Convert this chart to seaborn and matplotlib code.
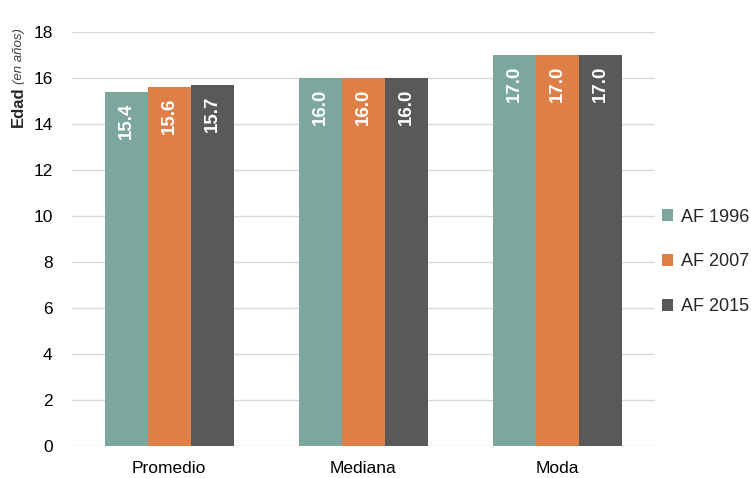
import matplotlib
matplotlib.use("Agg")
import matplotlib.pyplot as plt
import seaborn as sns
import pandas as pd

categorias = ["Promedio", "Mediana", "Moda"]
series = ["AF 1996", "AF 2007", "AF 2015"]
af_1996 = [15.4, 16.0, 17.0]
af_2007 = [15.6, 16.0, 17.0]
af_2015 = [15.7, 16.0, 17.0]
colores = ["#7BA79D", "#DE7F47", "#595959"]

df = pd.DataFrame({
    "Estadístico": categorias * 3,
    "Serie": [s for s in series for _ in categorias],
    "Edad": af_1996 + af_2007 + af_2015,
})

sns.set_theme(style="white")
plt.rcParams["font.family"] = ["Liberation Sans", "DejaVu Sans"]

fig = plt.figure(figsize=(7.51, 4.78), dpi=100)
ax = fig.add_axes([0.096, 0.067, 0.776, 0.866])

sns.barplot(data=df, x="Estadístico", y="Edad", hue="Serie", order=categorias,
            hue_order=series, palette=colores, width=0.665, saturation=1,
            edgecolor="none", linewidth=0, ax=ax, legend=True)

ax.set_ylim(0, 18)
ax.set_yticks(range(0, 19, 2))
ax.set_xlim(-0.5, 2.5)
ax.yaxis.grid(True, color="#D9D9D9", linewidth=1)
ax.set_axisbelow(True)
for s in ax.spines.values():
    s.set_visible(False)
ax.tick_params(axis="both", length=0, labelsize=12.5, colors="#000000")
ax.tick_params(axis="y", pad=14)
ax.tick_params(axis="x", pad=11)
ax.set_xlabel("")
ax.set_ylabel("")

# y-axis title: bold "Edad" followed by italic unit, reading bottom to top
fig.text(0.025, 1 - 127 / 478, "Edad", rotation=90, ha="center", va="bottom",
         fontsize=12, fontweight="bold")
fig.text(0.025, 1 - 84 / 478, "(en años)", rotation=90, ha="center", va="bottom",
         fontsize=9.5, fontstyle="italic", color="#404040")

for cont in ax.containers:
    for bar in cont:
        h = bar.get_height()
        ax.text(bar.get_x() + bar.get_width() / 2, h - 0.45, f"{h:.1f}",
                rotation=90, ha="center", va="top", color="white",
                fontsize=13.5, fontweight="bold")

ax.legend_.remove()
handles, labels = ax.get_legend_handles_labels()
fig.legend(handles, labels, loc="center left",
           bbox_to_anchor=(662 / 751, 1 - 262 / 478), bbox_transform=fig.transFigure,
           frameon=False, fontsize=13, handlelength=0.6, handleheight=0.6,
           handletextpad=0.45, labelspacing=1.55, borderaxespad=0, borderpad=0)

fig.savefig("out.png", dpi=100)
